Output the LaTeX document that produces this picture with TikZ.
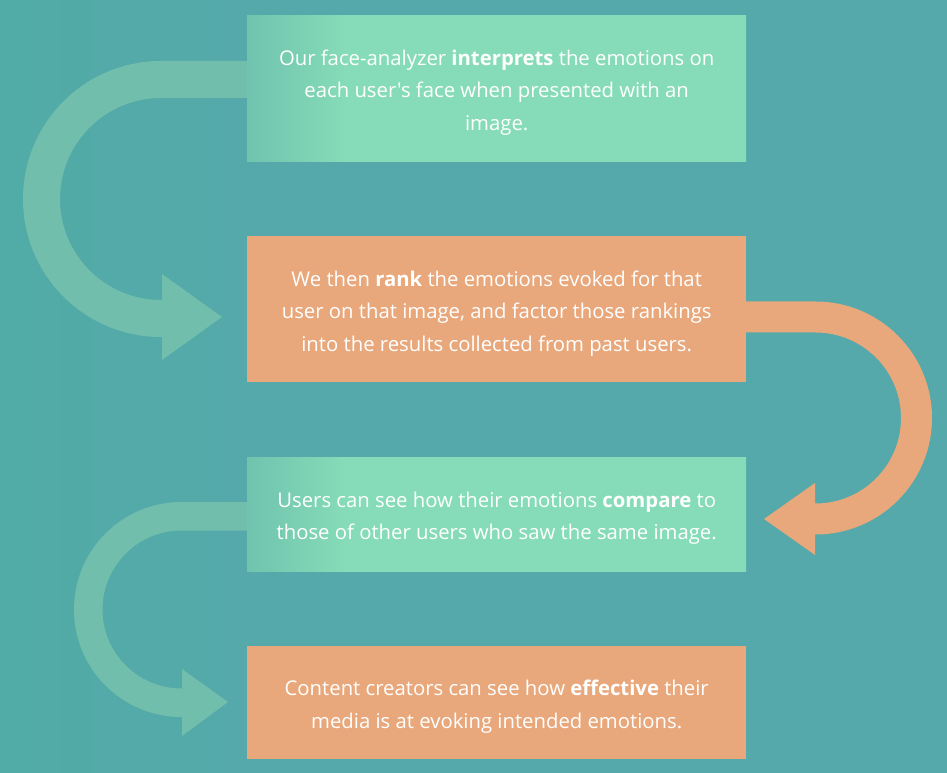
\documentclass[tikz,border=0pt]{standalone}
\usepackage{fontspec}
\setmainfont{Open Sans}[Ligatures=TeXOff]
\definecolor{bg}{HTML}{55A9AA}
\definecolor{bgleft}{HTML}{51ABA6}
\definecolor{mint}{HTML}{86DCB8}
\definecolor{mintdark}{HTML}{70C3AE}
\definecolor{peach}{HTML}{E8A87C}
\definecolor{greenarrow}{HTML}{72BEAC}
\pgfdeclarehorizontalshading{mintshade}{100bp}{color(0bp)=(mintdark); color(25bp)=(mintdark); color(35bp)=(mint); color(100bp)=(mint)}
\pgfdeclarehorizontalshading{bgshade}{100bp}{color(0bp)=(bgleft); color(25bp)=(bgleft); color(38bp)=(bg); color(100bp)=(bg)}
\begin{document}
\begin{tikzpicture}[x=1pt,y=1pt,
  txt/.style={text=white,align=center,yshift=-4pt,font=\fontsize{20.3}{32.5}\selectfont},
  greenbox/.style={shading=mintshade,minimum width=499pt,inner sep=0pt,anchor=north west},
  peachbox/.style={fill=peach,minimum width=499pt,inner sep=0pt,anchor=north west}]
\useasboundingbox (0,0) rectangle (947,772);
% background
\shade[shading=bgshade] (-2,-2) rectangle (949,774);
% arrows
\fill[greenarrow] (247,711) -- (161,711) arc[start angle=90,end angle=270,radius=138]
  -- (162,435) -- (162,412) -- (222,455) -- (162,498) -- (162,472) -- (161,472)
  arc[start angle=270,end angle=90,radius=101] -- (247,674) -- cycle;
\fill[peach] (746,470.5) -- (815.5,470.5) arc[start angle=90,end angle=-90,radius=116.5]
  -- (815,237.5) -- (815,217) -- (764,253) -- (815,289) -- (815,268.5) -- (815.5,268.5)
  arc[start angle=-90,end angle=90,radius=85.5] -- (746,439.5) -- cycle;
\fill[greenarrow] (247,270) -- (181.5,270) arc[start angle=90,end angle=270,radius=107.5]
  -- (182,55) -- (182,36) -- (228,70) -- (182,103) -- (182,83.5) -- (181.5,83.5)
  arc[start angle=270,end angle=90,radius=79] -- (247,241.5) -- cycle;
% boxes
\node[greenbox,minimum height=146pt] (b1) at (247,757) {};
\node[peachbox,minimum height=146pt] (b2) at (247,536) {};
\node[greenbox,minimum height=114pt] (b3) at (247,315) {};
\node[peachbox,minimum height=113pt] (b4) at (247,126) {};
% texts
\node[txt] (t1) at (b1.center) {Our face-analyzer \textbf{interprets} the emotions on\\each user's face when presented with an\\image.};
\node[txt] (t2) at (b2.center) {We then \textbf{rank} the emotions evoked for that\\user on that image, and factor those rankings\\into the results collected from past users.};
\node[txt] (t3) at (b3.center) {Users can see how their emotions \textbf{compare} to\\those of other users who saw the same image.};
\node[txt] (t4) at (b4.center) {Content creators can see how \textbf{effective} their\\media is at evoking intended emotions.};
\end{tikzpicture}
\end{document}
